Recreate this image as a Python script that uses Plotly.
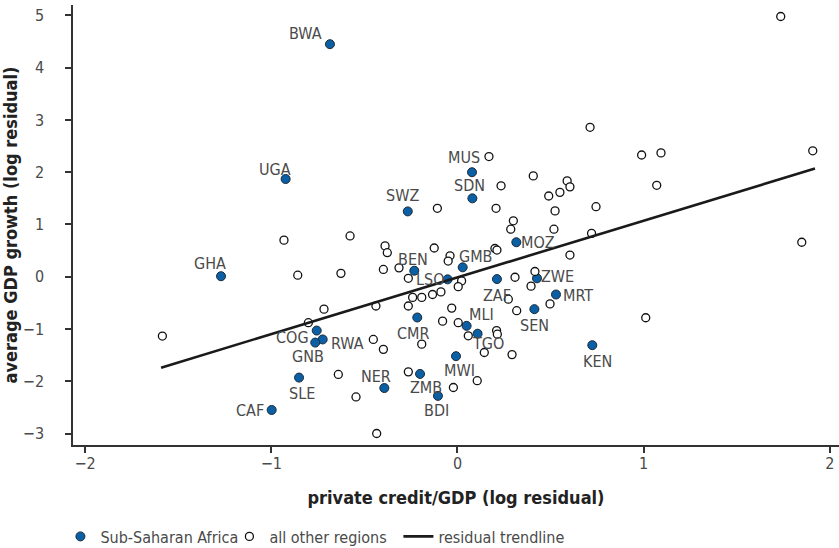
import plotly.graph_objects as go

# ---- data ----
ssa_codes = ["BWA", "UGA", "GHA", "MUS", "SDN", "SWZ", "BEN", "LSO", "GMB", "MOZ",
             "ZAF", "ZWE", "MRT", "SEN", "KEN", "MLI", "TGO", "CMR", "MWI", "ZMB",
             "BDI", "NER", "SLE", "CAF", "COG", "RWA", "GNB"]
ssa_x = [-0.685, -0.923, -1.27, 0.078, 0.08, -0.267, -0.232, -0.053, 0.028, 0.316,
         0.212, 0.427, 0.529, 0.413, 0.724, 0.049, 0.108, -0.216, -0.008, -0.201,
         -0.105, -0.393, -0.851, -0.998, -0.756, -0.724, -0.764]
ssa_y = [4.45, 1.87, 0.01, 2.00, 1.50, 1.25, 0.115, -0.05, 0.18, 0.66,
         -0.045, -0.03, -0.34, -0.62, -1.31, -0.94, -1.09, -0.78, -1.52, -1.86,
         -2.28, -2.13, -1.93, -2.55, -1.03, -1.20, -1.26]

other_x = [1.736, 0.712, 0.989, 1.093, 1.908, 0.169, 0.407, 0.234, 0.589, 0.604,
           0.55, 0.49, 1.07, -0.108, 0.207, 0.524, 0.744, 0.30, 0.286, 0.518,
           0.72, 1.849, -0.577, -0.932, -0.389, -0.377, -0.125, 0.201, 0.212, -0.04,
           -0.05, 0.604, -0.626, -0.858, -0.398, -0.314, -0.264, 0.022, 0.004, 0.309,
           0.416, 0.395, -0.089, -0.134, -0.192, -0.241, 0.273, -0.438, -0.264, -0.031,
           0.497, 0.318, 1.011, -0.717, -0.801, -0.08, 0.004, 0.21, 0.214, 0.058,
           -0.452, -0.398, -0.192, 0.144, 0.293, -1.585, -0.64, -0.545, -0.264, -0.022,
           0.106, -0.434]
other_y = [4.98, 2.86, 2.33, 2.37, 2.41, 2.30, 1.93, 1.74, 1.834, 1.72,
           1.615, 1.545, 1.75, 1.31, 1.31, 1.26, 1.34, 1.07, 0.91, 0.91,
           0.83, 0.66, 0.78, 0.70, 0.59, 0.46, 0.55, 0.54, 0.51, 0.40,
           0.30, 0.415, 0.065, 0.03, 0.14, 0.17, -0.03, -0.08, -0.19, -0.01,
           0.10, -0.18, -0.29, -0.34, -0.395, -0.395, -0.43, -0.56, -0.56, -0.60,
           -0.52, -0.65, -0.785, -0.62, -0.88, -0.85, -0.88, -1.03, -1.10, -1.13,
           -1.20, -1.39, -1.29, -1.45, -1.49, -1.135, -1.87, -2.30, -1.82, -2.12,
           -1.99, -3.00]

trend_x = [-1.592, 1.92]
trend_y = [-1.74, 2.07]

x_ticks = [-2, -1, 0, 1, 2]
y_ticks = [-3, -2, -1, 0, 1, 2, 3, 4, 5]

# ---- styling: label offsets (screen px, right / down) ----
label_offsets = {
    "BWA": (-24, -11), "UGA": (-11, -10), "GHA": (-11, -13), "MUS": (-8, -15),
    "SDN": (-3, -13), "SWZ": (-5, -16), "BEN": (-1, -11), "LSO": (-18, 0),
    "GMB": (13, -11), "MOZ": (22, 0), "ZAF": (0, 16), "ZWE": (21, -2),
    "MRT": (22, 1), "SEN": (0, 16), "KEN": (5, 16), "MLI": (15, -11),
    "TGO": (10, 10), "CMR": (-4, 16), "COG": (-24, 7), "RWA": (25, 4),
    "GNB": (-7, 14), "SLE": (3, 16), "CAF": (-22, 1), "NER": (-8, -12),
    "ZMB": (6, 14), "BDI": (-1, 15), "MWI": (3, 14),
}

FONT = "Liberation Sans Narrow, DejaVu Sans Condensed, Arial Narrow, sans-serif"
TXT = "#4a4a4a"
AX = "#333333"

fig = go.Figure()
fig.add_trace(go.Scatter(
    x=ssa_x, y=ssa_y, mode="markers", name="Sub-Saharan Africa",
    marker=dict(size=9, color="#0b5fa5", line=dict(color="#1c2a38", width=1)),
))
fig.add_trace(go.Scatter(
    x=other_x, y=other_y, mode="markers", name="all other regions",
    marker=dict(size=8, color="white", line=dict(color="#111111", width=1.3)),
))
fig.add_trace(go.Scatter(
    x=trend_x, y=trend_y, mode="lines", name="residual trendline",
    line=dict(color="#1a1a1a", width=2.6),
))

for code, xv, yv in zip(ssa_codes, ssa_x, ssa_y):
    dx, dy = label_offsets.get(code, (0, -12))
    fig.add_annotation(x=xv, y=yv, xref="x", yref="y", text=code, showarrow=False,
                       xshift=dx, yshift=-dy, font=dict(family=FONT, size=16, color=TXT))

fig.update_layout(
    width=839, height=548,
    margin=dict(l=73, r=0, t=5, b=103, autoexpand=False),
    paper_bgcolor="white", plot_bgcolor="white",
    font=dict(family=FONT, size=16, color=TXT),
    showlegend=True,
    legend=dict(orientation="h", xref="container", yref="container",
                x=0.072, y=0.021, xanchor="left", yanchor="middle",
                entrywidth=124, entrywidthmode="pixels",
                font=dict(family=FONT, size=16, color=TXT),
                itemwidth=30, bgcolor="rgba(0,0,0,0)"),
    xaxis=dict(range=[-2.065, 2.049], tickvals=x_ticks, showgrid=False, zeroline=False,
               showline=True, linecolor=AX, linewidth=1.5, ticks="outside", ticklen=6,
               tickcolor=AX, tickwidth=1.5, tickfont=dict(family=FONT, size=16, color=TXT),
               ticklabeloverflow="allow", automargin=False, ticklabelstandoff=-3,
               title=dict(text="<b>private credit/GDP (log residual)</b>",
                          font=dict(family=FONT, size=18, color="#222222"), standoff=19)),
    yaxis=dict(range=[-3.22, 5.2], tickvals=y_ticks, showgrid=False, zeroline=False,
               showline=True, linecolor=AX, linewidth=1.5, ticks="outside", ticklen=6,
               tickcolor=AX, tickwidth=1.5, tickfont=dict(family=FONT, size=16, color=TXT),
               ticklabelstandoff=18, ticklabeloverflow="allow", automargin=True,
               title=dict(text="<b>average GDP growth (log residual)</b>",
                          font=dict(family=FONT, size=18, color="#222222"), standoff=4)),
)

fig.write_html("out.html", config={"displayModeBar": False},
               post_script="document.body.style.margin='0';")
